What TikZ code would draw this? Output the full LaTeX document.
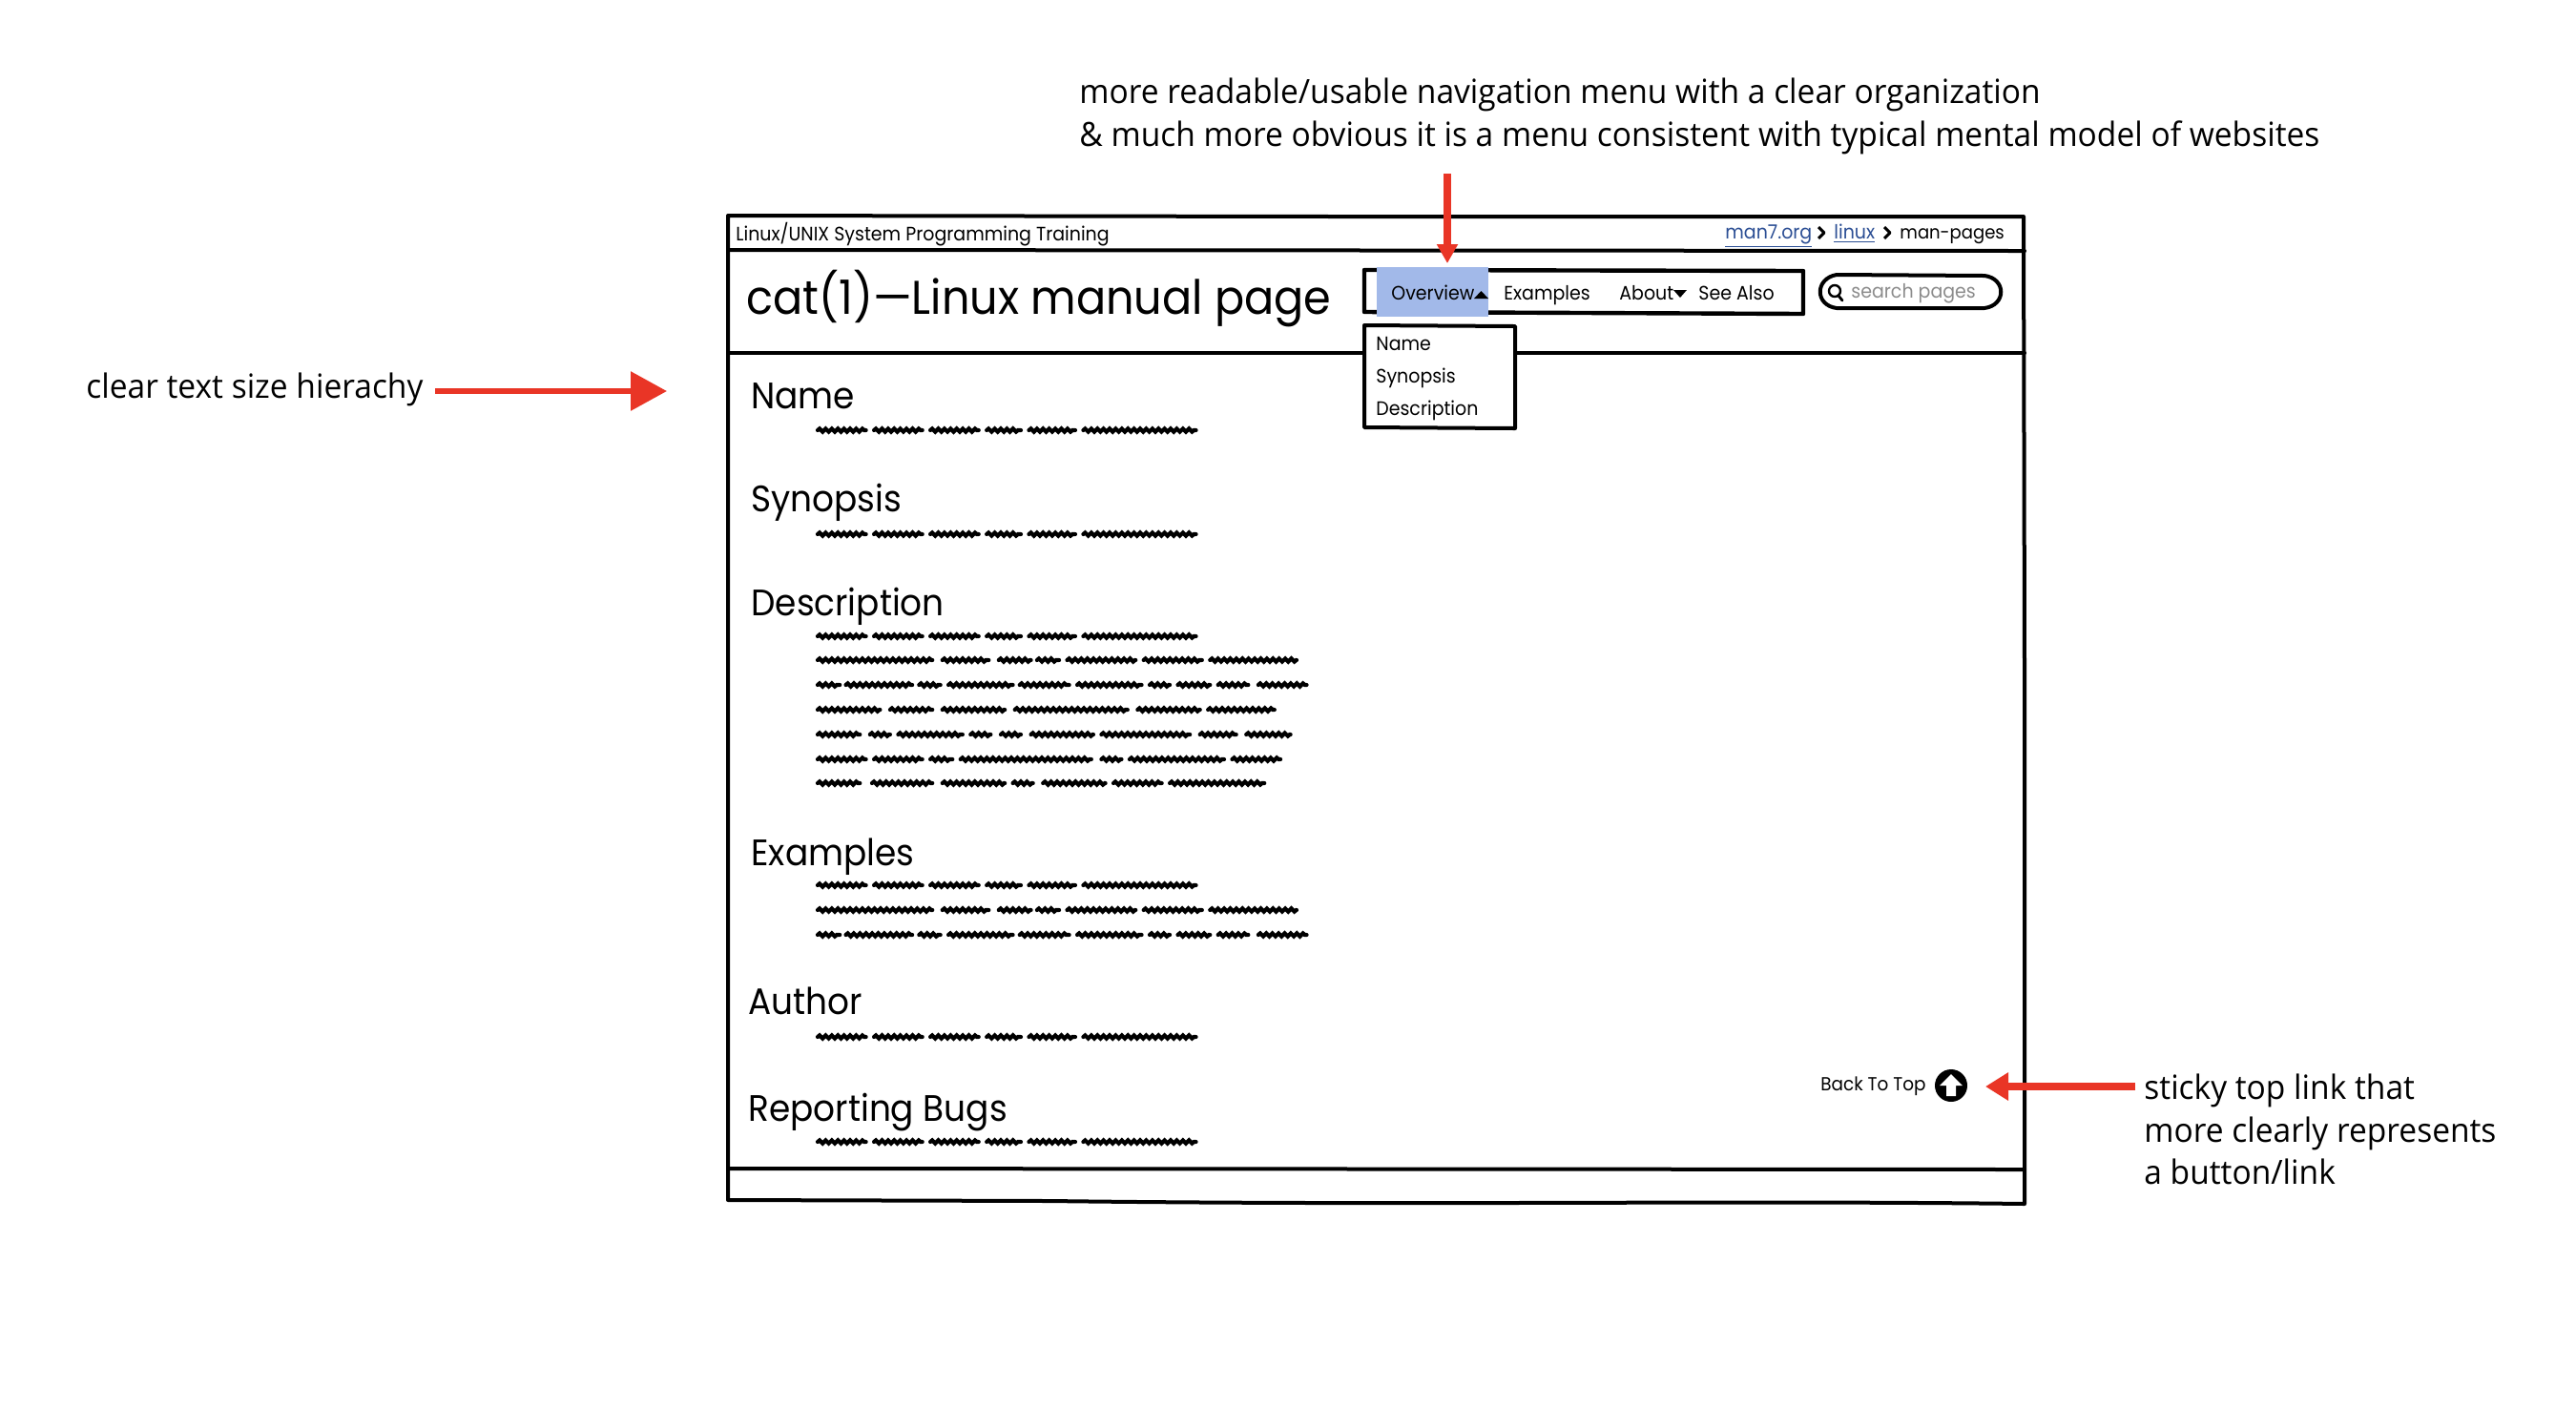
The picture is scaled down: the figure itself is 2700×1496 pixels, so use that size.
\documentclass[tikz,border=0pt]{standalone}
\usepackage{fontspec}
\usetikzlibrary{arrows.meta,decorations.pathmorphing}
\newfontfamily\wirefont[FakeStretch=.93]{Poppins}
\newfontfamily\notefont[FakeStretch=.958]{Open Sans}
\definecolor{redarrow}{HTML}{E93526}
\definecolor{navblue}{HTML}{A2B9E9}
\definecolor{linkblue}{HTML}{2B4E94}
\newcommand{\rowone}{230/350,370/490,510/630,650/735,755/870,890/1170}
\newcommand{\rowtwo}{230/515,540/655,680/760,775/830,850/1020,1040/1185,1205/1420}
\newcommand{\rowthree}{230/285,300/465,482/535,555/715,732/855,875/1035,1055/1105,1125/1205,1225/1300,1325/1445}
\newcommand{\scribrow}[2]{\edef\scriblist{#2}\foreach \wa/\wb in \scriblist {\draw[scrib] ({760+\wa*.4218},#1) -- ({760+\wb*.4218},#1);}}
\tikzset{
  wire/.style={line width=2pt,black,line cap=round,line join=round},
  scrib/.style={line width=2.1pt,black,line cap=round,decorate,decoration={snake,amplitude=.8pt,segment length=3.2pt}},
  head/.style={anchor=west,inner sep=0,text height=18pt,text depth=4.5pt,font=\wirefont\fontsize{19.3}{22}\selectfont},
  small/.style={anchor=west,inner sep=0,text height=9.2pt,text depth=2pt,font=\wirefont\fontsize{10.2}{12}\selectfont},
  note/.style={anchor=west,inner sep=0,font=\notefont\fontsize{17.5}{22.4}\selectfont},
}
\begin{document}
\begin{tikzpicture}[x=.5pt,y=-.5pt]
\useasboundingbox (0,0) rectangle (2700,1496);
\fill[white] (0,0) rectangle (2700,1496);
% page frame
\draw[wire] (763,226) -- (1400,227) -- (2121,227) -- (2122,700) -- (2122,1262) .. controls (1800,1258) and (1500,1264) .. (1100,1259) -- (763,1258) -- cycle;
\draw[wire] (763,262) -- (2122,263);
\draw[wire] (763,370) -- (2122,370);
\draw[wire] (763,1225) -- (2122,1226);
% top bar
\node[small] (brand) at (771,245) {Linux/UNIX System Programming Training};
\node[small,text=linkblue] (crumbA) at (1808,243) {\underline{man7.org}};
\draw[line width=1.5pt,line join=round] (1906,238) -- (1912,244) -- (1906,250);
\node[small,text=linkblue] (crumbB) at (1922,243) {\underline{linux}};
\draw[line width=1.5pt,line join=round] (1975,238) -- (1981,244) -- (1975,250);
\node[small,font=\wirefont\fontsize{9.7}{12}\selectfont] (crumbC) at (1991,243) {man-pages};
% title
\node[anchor=west,inner sep=0,text height=22pt,text depth=4.5pt,font=\wirefont\fontsize{24.8}{28}\selectfont] (title) at (782,312) {cat(1)—Linux manual page};
% nav
\draw[wire,line width=2.2pt] (1430,283) -- (1890,284) -- (1890,329) -- (1430,327) -- cycle;
\fill[navblue] (1443,280) rectangle (1560,332);
\node[small] (overview) at (1458,307) {Overview};
\fill (1545,313) -- (1552.5,305) -- (1560,313) -- cycle;
\node[small] (examples) at (1576,307) {Examples};
\node[small] (about) at (1697,307) {About};
\fill (1754,304) -- (1768,304) -- (1761,312) -- cycle;
\node[small] (seealso) at (1780,307) {See Also};
% search
\draw[wire] (1925,288) -- (2080,289) .. controls (2103,292) and (2103,320) .. (2080,323) -- (1925,323) .. controls (1902,320) and (1902,292) .. (1925,288) -- cycle;
\draw[line width=1.2pt,black] (1923,305) circle (6);
\draw[line width=1.4pt,line cap=round] (1927,310) -- (1931,315);
\node[small,text=black!45] (search) at (1940,305) {search pages};
% dropdown
\draw[wire,fill=white] (1430,341) -- (1588,342) -- (1588,449) -- (1430,448) -- cycle;
\node[small] (menuA) at (1442,360) {Name};
\node[small] (menuB) at (1442,394) {Synopsis};
\node[small] (menuC) at (1442,428) {Description};
% sections
\node[head] (hName) at (787,415) {Name};
\scribrow{451}{\rowone}
\node[head] (hSyn) at (787,523) {Synopsis};
\scribrow{560}{\rowone}
\node[head] (hDesc) at (787,632) {Description};
\scribrow{667}{\rowone}
\scribrow{692}{\rowtwo}
\scribrow{718}{\rowthree}
\scribrow{744}{230/385,410/515,540/695,720/1000,1025/1180,1200/1365}
\scribrow{770}{230/335,360/410,430/590,610/660,685/735,760/915,935/1155,1180/1270,1295/1405}
\scribrow{796}{230/350,370/490,510/565,585/910,935/985,1005/1240,1260/1380}
\scribrow{821}{230/335,365/515,540/695,715/765,790/945,965/1085,1105/1340}
\node[head] (hEx) at (787,894) {Examples};
\scribrow{928}{\rowone}
\scribrow{954}{\rowtwo}
\scribrow{980}{\rowthree}
\node[head] (hAuth) at (784,1050) {Author};
\scribrow{1087}{\rowone}
\node[head] (hBugs) at (784,1162) {Reporting Bugs};
\scribrow{1197}{\rowone}
% back to top
\node[small,font=\wirefont\fontsize{9.9}{12}\selectfont] (back) at (1908,1136) {Back To Top};
\fill (2045,1138) circle (17);
\fill[white] (2045,1126) -- (2057,1138) -- (2050,1138) -- (2050,1149) -- (2040,1149) -- (2040,1138) -- (2033,1138) -- cycle;
% notes
\node[note,align=left] (noteTop) at (1131,122) {more readable/usable navigation menu with a clear organization\\\& much more obvious it is a menu consistent with typical mental model of websites};
\node[note] (noteLeft) at (90,408) {clear text size hierachy};
\node[note,align=left] (noteRight) at (2247,1184) {sticky top link that\\more clearly represents\\a button/link};
% red arrows
\coordinate (topS) at (1517,182);
\coordinate (topE) at (1517,276);
\coordinate (leftS) at (456,410);
\coordinate (leftE) at (699,410);
\coordinate (rightS) at (2238,1139);
\coordinate (rightE) at (2081,1139);
\draw[redarrow,line width=3.6pt,-{Triangle[length=10pt,width=10.5pt]}] (topS) -- (topE);
\draw[redarrow,line width=3pt,-{Triangle[length=19pt,width=20pt]}] (leftS) -- (leftE);
\draw[redarrow,line width=4pt,-{Triangle[length=12pt,width=14pt]}] (rightS) -- (rightE);
\end{tikzpicture}
\end{document}
